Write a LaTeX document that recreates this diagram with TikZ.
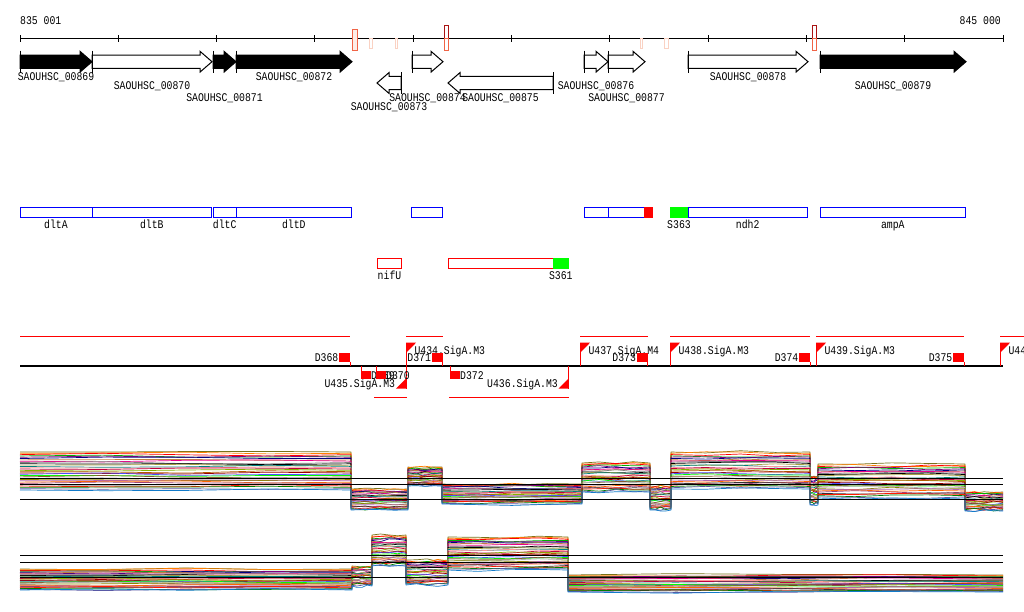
\documentclass[tikz,border=0pt]{standalone}
\usepackage{fontspec}
\setmonofont{Liberation Mono}
\usepackage{graphicx}
\usepackage{tikz}

\definecolor{siteA}{RGB}{240,100,70}
\definecolor{siteB}{RGB}{250,210,195}
\definecolor{siteC}{RGB}{170,20,20}
\definecolor{brightgreen}{RGB}{0,255,0}
\newcommand\tall[1]{\scalebox{1}[1.2]{#1}}

\begin{document}
\begin{tikzpicture}[x=1pt, y=-1pt,
  lbl/.style={font=\fontsize{9.8}{10}\selectfont\ttfamily, inner sep=0pt, anchor=base},
  gene/.style={draw=black, line width=1pt},
  opbox/.style={draw=blue, line width=1pt},
  tubox/.style={draw=red, line width=1pt},
  tuline/.style={red, line width=1pt},
  expr/.style={line width=0.7pt, line join=round},
  refline/.style={black, line width=1.1pt}]
\clip (0,0) rectangle (1024,611);
\fill[white] (0,0) rectangle (1024,611);

\draw[line width=1pt] (20,38) -- (1003,38);
\foreach \i in {0,...,10} \draw[line width=1pt] ({20+98.3*\i},35) -- ({20+98.3*\i},41.5);
\node[lbl, anchor=base west] (start) at (20,24.3) {\tall{835 001}};
\node[lbl, anchor=base east] (stop) at (1001,24.3) {\tall{845 000}};

\draw[siteA, fill=siteB!40] (352.3,29) rectangle (356.7,50);
\draw[siteB] (369,38) rectangle (372,48);
\draw[siteB] (395,38) rectangle (397,48);
\draw[siteC] (444,25) rectangle (447.7,38);
\draw[siteA] (444,38) rectangle (447.7,50);
\draw[siteB] (640,38) rectangle (642,48);
\draw[siteB] (664,38) rectangle (668,48);
\draw[siteC] (812,25) rectangle (815.7,38);
\draw[siteA] (812,38) rectangle (815.7,50);

\foreach \s/\e/\f/\id/\r in {20/92/black/00869/80, 92/212/white/00870/89.3, 213/236/black/00871/101,
  236/352/black/00872/80, 412/443/white/00874/101, 584/608/white/00876/89.3,
  608/645/white/00877/101, 688/808/white/00878/80, 820/966/black/00879/89.3}{
  \draw[gene, fill=\f] (\s,55) -- ({\e-12},55) -- ({\e-12},51.3) -- (\e,61.7) -- ({\e-12},72.1) -- ({\e-12},68.3) -- (\s,68.3) -- cycle;
  \draw[gene] (\s,50.5) -- (\s,72.7);
  \node[lbl] (g\id) at ({(\s+\e)/2},\r) {\tall{SAOUHSC\_\id}};
}
\foreach \s/\e/\id/\r in {377/401/00873/110, 448/553/00875/101}{
  \draw[gene, fill=white] (\e,76.3) -- ({\s+12},76.3) -- ({\s+12},72.6) -- (\s,83) -- ({\s+12},93.4) -- ({\s+12},89.7) -- (\e,89.7) -- cycle;
  \draw[gene] (\e,72.3) -- (\e,93.7);
  \node[lbl] (g\id) at ({(\s+\e)/2},\r) {\tall{SAOUHSC\_\id}};
}

\foreach \s/\e/\id in {20/92/dltA, 92/211.7/dltB, 213/236.3/dltC, 236.3/351.3/dltD, 688/807.3/ndh2, 820.3/965.3/ampA}{
  \draw[opbox] (\s,207.3) rectangle (\e,217.3);
  \node[lbl] (op\id) at ({(\s+\e)/2},228.3) {\tall{\id}};
}
\draw[opbox] (411.7,207.3) rectangle (442.3,217.3);
\draw[opbox] (584.3,207.3) rectangle (608,217.3);
\draw[opbox] (608,207.3) rectangle (644.3,217.3);
\fill[red] (644.3,206.8) rectangle (652.7,217.8);
\fill[brightgreen] (670,206.8) rectangle (688,217.8);
\node[lbl] (opS363) at (679,228.3) {\tall{S363}};

\draw[tubox] (377.3,258.3) rectangle (401.7,268.3);
\node[lbl] (opnifU) at (389.5,279) {\tall{nifU}};
\draw[tubox] (448.3,258.3) rectangle (553,268.3);
\fill[brightgreen] (553,257.8) rectangle (568.7,268.8);
\node[lbl] (opS361) at (560.8,279) {\tall{S361}};

\foreach \a/\b in {20/350, 406/442.7, 580/647.7, 670/810, 816/964, 1000/1024} \draw[tuline] (\a,336) -- (\b,336);
\foreach \a/\b in {374/406.7, 449/568.7} \draw[tuline] (\a,397) -- (\b,397);
\draw[black, line width=1.2pt] (20,366) -- (1003,366);

\foreach \x/\id in {406/U434.SigA.M3, 580/U437.SigA.M4, 670/U438.SigA.M3, 816/U439.SigA.M3, 1000/U440.SigA.M3}{
  \draw[tuline] (\x,366) -- (\x,342.7);
  \fill[red] (\x,342.7) -- ({\x+10},342.7) -- (\x,353) -- cycle;
  \node[lbl, anchor=base west] (\id) at ({\x+8.3},354) {\tall{\id}};
}
\foreach \x/\id in {350/D368, 442.7/D371, 647.7/D373, 810/D374, 964/D375}{
  \draw[tuline] (\x,361.7) -- (\x,366);
  \fill[red] ({\x-11},353.3) rectangle (\x,361.7);
  \node[lbl, anchor=base east] (\id) at ({\x-11.5},361.7) {\tall{\id}};
}
\foreach \x/\id in {406/U435.SigA.M3, 568.7/U436.SigA.M3}{
  \draw[tuline] (\x,366) -- (\x,388.5);
  \fill[red] (\x,378.5) -- (\x,388.5) -- ({\x-10},388.5) -- cycle;
  \node[lbl, anchor=base east] (\id) at ({\x-10.7},387) {\tall{\id}};
}
\foreach \x/\id in {361/D369, 376/D370, 450/D372}{
  \draw[tuline] (\x,366) -- (\x,371);
  \fill[red] (\x,371) rectangle ({\x+9.5},379.3);
  \node[lbl, anchor=base west] (\id) at ({\x+10},379.3) {\tall{\id}};
}

\pgfmathsetseed{11}
\def\segA{20/351/452/490, 351/408/489/510, 408/442/467/486, 442/582/484/504, 582/650/463/492,
  650/671/486/510, 671/810/452/489, 810/818/476/505, 818/965/464/498, 965/1003/492/511}
\def\segB{20/352/569/590, 352/372/566/586, 372/406/535/566, 406/448/560/585, 448/568/537/570, 568/1003/575/592}
\foreach \col [count=\k from 0] in {olive!80!black, orange, red, green!70!black, violet, blue!50!black,
  brown, magenta, gray, black, yellow!60!black, teal, pink!80!red, purple, lime!70!black,
  orange!70!black, red!60!black, blue!70, green, brown!70!black, gray!60, olive, violet!60,
  orange!80!red, magenta!60!black, black!80, red!80!orange, green!50!black, blue!30!gray, cyan!60!blue}{
  \draw[expr, \col] (20,{452+38*\k/29}) \foreach \a/\b/\h/\l in \segA {
    -- (\a,{\h+(\l-\h)*\k/29}) -- ({(3*\a+\b)/4},{\h+(\l-\h)*\k/29+1.5*rand})
    -- ({(\a+\b)/2},{\h+(\l-\h)*\k/29+1.5*rand}) -- ({(\a+3*\b)/4},{\h+(\l-\h)*\k/29+1.5*rand})
    -- (\b,{\h+(\l-\h)*\k/29}) };
  \draw[expr, \col] (20,{569+21*\k/29}) \foreach \a/\b/\h/\l in \segB {
    -- (\a,{\h+(\l-\h)*\k/29}) -- ({(3*\a+\b)/4},{\h+(\l-\h)*\k/29+1.5*rand})
    -- ({(\a+\b)/2},{\h+(\l-\h)*\k/29+1.5*rand}) -- ({(\a+3*\b)/4},{\h+(\l-\h)*\k/29+1.5*rand})
    -- (\b,{\h+(\l-\h)*\k/29}) };
}
\foreach \y in {478.3, 484.3, 499.3, 555.3, 562.3, 577.3} \draw[refline] (20,\y) -- (1003,\y);
\end{tikzpicture}
\end{document}
